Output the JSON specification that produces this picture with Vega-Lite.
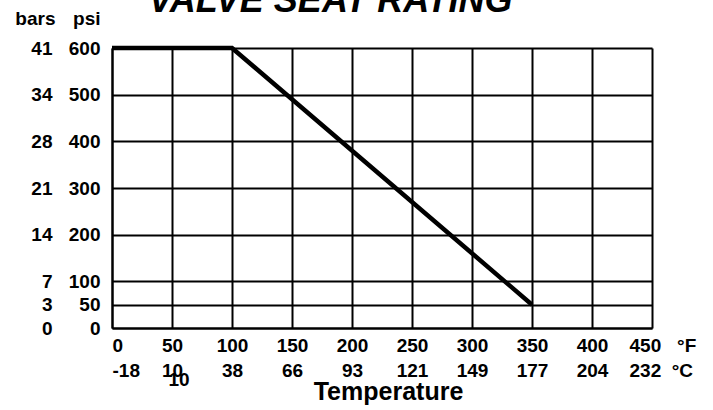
{
  "$schema": "https://vega.github.io/schema/vega-lite/v6.json",
  "width": 540,
  "height": 280,
  "autosize": {"type": "none"},
  "padding": {"left": 112, "top": 48, "right": 61, "bottom": 82},
  "background": "white",
  "config": {"view": {"stroke": null}, "font": "Liberation Sans"},
  "layer": [
    {
      "data": {"values": [
        {"F": 0, "psi": 600},
        {"F": 100, "psi": 600},
        {"F": 350, "psi": 50}
      ]},
      "mark": {"type": "line", "color": "black", "strokeWidth": 4.5},
      "encoding": {
        "x": {
          "field": "F", "type": "quantitative",
          "scale": {"domain": [0, 450], "nice": false},
          "axis": {
            "orient": "bottom",
            "values": [0, 50, 100, 150, 200, 250, 300, 350, 400, 450],
            "labelExpr": "[datum.value == 450 ? '450\u00a0\u00a0\u00a0°F' : datum.label, ['-18','10','38','66','93','121','149','177','204','232\u00a0\u00a0°C'][datum.value/50]]",
            "labelFont": "Liberation Sans",
            "labelFontSize": 19,
            "labelFontWeight": "bold",
            "labelColor": "black",
            "labelBaseline": "top",
            "labelPadding": 8,
            "labelLineHeight": 25,
            "labelFlush": false,
            "labelOverlap": false,
            "labelAlign": {"condition": {"test": "datum.value == 0 || datum.value == 450", "value": "left"}, "value": "center"},
            "labelOffset": {"condition": {"test": "datum.value == 450", "value": -23}, "value": 0},
            "ticks": false,
            "domain": true,
            "domainColor": "black",
            "domainWidth": 2,
            "grid": true,
            "gridColor": "black",
            "gridWidth": 2,
            "gridOpacity": 1,
            "title": "Temperature",
            "titleFont": "Liberation Sans",
            "titleFontSize": 25,
            "titleFontWeight": "bold",
            "titleColor": "black",
            "titleX": 276,
            "titleY": 71,
            "titleAlign": "center",
            "titleBaseline": "alphabetic"
          }
        },
        "y": {
          "field": "psi", "type": "quantitative",
          "scale": {"domain": [0, 600], "nice": false},
          "axis": {
            "orient": "left",
            "values": [0, 50, 100, 200, 300, 400, 500, 600],
            "format": "d",
            "labelFont": "Liberation Sans",
            "labelFontSize": 19,
            "labelFontWeight": "bold",
            "labelColor": "black",
            "labelPadding": 12,
            "labelBaseline": "middle",
            "labelFlush": false,
            "labelOverlap": false,
            "ticks": false,
            "domain": true,
            "domainColor": "black",
            "domainWidth": 2,
            "grid": true,
            "gridColor": "black",
            "gridWidth": 2,
            "gridOpacity": 1,
            "title": "psi",
            "titleFont": "Liberation Sans",
            "titleFontSize": 19,
            "titleFontWeight": "bold",
            "titleColor": "black",
            "titleAngle": 0,
            "titleAlign": "right",
            "titleBaseline": "alphabetic",
            "titleX": -12,
            "titleY": -24
          }
        }
      }
    },
    {
      "data": {"values": [
        {"F": 0, "psi": 600},
        {"F": 100, "psi": 600},
        {"F": 350, "psi": 50}
      ]},
      "mark": {"type": "point", "opacity": 0},
      "encoding": {
        "y": {
          "field": "psi", "type": "quantitative",
          "scale": {"domain": [0, 600], "nice": false},
          "axis": {
            "orient": "left",
            "values": [0, 50, 100, 200, 300, 400, 500, 600],
            "labelExpr": "['0','3','7','','14','','21','','28','','34','','41'][datum.value/50]",
            "labelFont": "Liberation Sans",
            "labelFontSize": 19,
            "labelFontWeight": "bold",
            "labelColor": "black",
            "labelPadding": 60,
            "labelBaseline": "middle",
            "labelFlush": false,
            "labelOverlap": false,
            "ticks": false,
            "domain": false,
            "grid": false,
            "title": "bars",
            "titleFont": "Liberation Sans",
            "titleFontSize": 19,
            "titleFontWeight": "bold",
            "titleColor": "black",
            "titleAngle": 0,
            "titleAlign": "right",
            "titleBaseline": "alphabetic",
            "titleX": -57,
            "titleY": -24
          }
        }
      }
    },
    {
      "data": {"values": [{"F": 50, "psi": 0, "label": "10"}]},
      "mark": {"type": "text", "dx": 7, "dy": 58, "fontSize": 19, "fontWeight": "bold", "font": "Liberation Sans", "baseline": "alphabetic", "align": "center", "color": "black"},
      "encoding": {
        "x": {
          "field": "F", "type": "quantitative",
          "axis": {
            "orient": "top",
            "labels": false,
            "ticks": false,
            "domain": false,
            "grid": false,
            "title": "VALVE SEAT RATING",
            "titleFont": "Liberation Sans",
            "titleFontSize": 36,
            "titleFontWeight": "bold",
            "titleFontStyle": "italic",
            "titleColor": "black",
            "titleAlign": "center",
            "titleBaseline": "alphabetic",
            "titleX": 218,
            "titleY": -37
          }
        },
        "y": {"field": "psi", "type": "quantitative", "axis": null},
        "text": {"field": "label"}
      }
    }
  ],
  "resolve": {"axis": {"y": "independent", "x": "independent"}}
}
